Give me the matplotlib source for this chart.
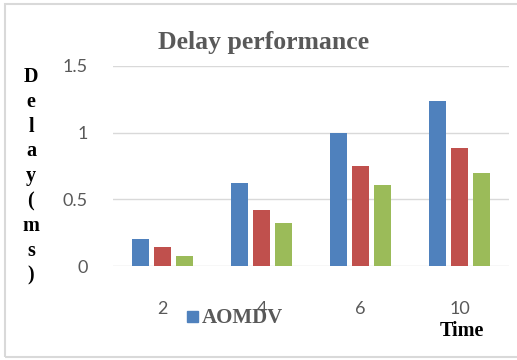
import numpy as np
import matplotlib.pyplot as plt
from matplotlib.patches import Rectangle

categories = ['2', '4', '6', '10']
aomdv = [0.20, 0.62, 1.00, 1.24]
series2 = [0.145, 0.42, 0.75, 0.885]
series3 = [0.075, 0.32, 0.61, 0.70]
yticks = [0, 0.5, 1, 1.5]
ytick_labels = ['0', '0.5', '1', '1.5']

colors = ['#4F81BD', '#C0504D', '#9BBB59']
serif = 'Liberation Serif'
sans = 'Lato'

fig = plt.figure(figsize=(5.17, 3.6), dpi=100)
ax = fig.add_axes([0.2186, 0.261, 0.766, 0.556])

x = np.arange(len(categories))
w = 0.172
step = 0.222
for i, vals in enumerate([aomdv, series2, series3]):
    ax.bar(x + (i - 1) * step, vals, width=w, color=colors[i], zorder=3)

ax.set_xlim(-0.5, 3.5)
ax.set_ylim(0, 1.5)
ax.set_yticks(yticks)
ax.set_yticklabels(ytick_labels, family=sans, fontsize=13, color='#595959')
ax.set_xticks(x)
ax.set_xticklabels(categories, family=sans, fontsize=13, color='#595959')
ax.tick_params(length=0, axis='y', pad=18)
ax.tick_params(length=0, axis='x', pad=25)
ax.grid(axis='y', color='#d9d9d9', linewidth=1, zorder=0)
for s in ax.spines.values():
    s.set_visible(False)

fig.text(264 / 517, 1 - 43 / 360, 'Delay performance', family=serif, fontweight='bold',
         fontsize=18.5, color='#595959', ha='center', va='center')

letters = ['D', 'e', 'l', 'a', 'y', '(', 'm', 's', ')']
for k, ch in enumerate(letters):
    y = 77 + k * 24.8
    fig.text(31 / 517, 1 - y / 360, ch, family=serif, fontweight='bold',
             fontsize=14.5, color='black', ha='center', va='center')

# legend marker and label
fig.patches.append(Rectangle((187 / 517, 1 - 322 / 360), 11 / 517, 11 / 360,
                             transform=fig.transFigure, color=colors[0], figure=fig))
fig.text(202 / 517, 1 - 318 / 360, 'AOMDV', family=serif, fontweight='bold',
         fontsize=15, color='#595959', ha='left', va='center')

fig.text(462 / 517, 1 - 331 / 360, 'Time', family=serif, fontweight='bold',
         fontsize=14.5, color='black', ha='center', va='center')

fig.patches.append(Rectangle((5 / 517, 3 / 360), 1.2, 1 - 7 / 360,
                             transform=fig.transFigure, fill=False,
                             edgecolor='#d9d9d9', linewidth=1.5, figure=fig))

fig.savefig('out.png', dpi=100)
